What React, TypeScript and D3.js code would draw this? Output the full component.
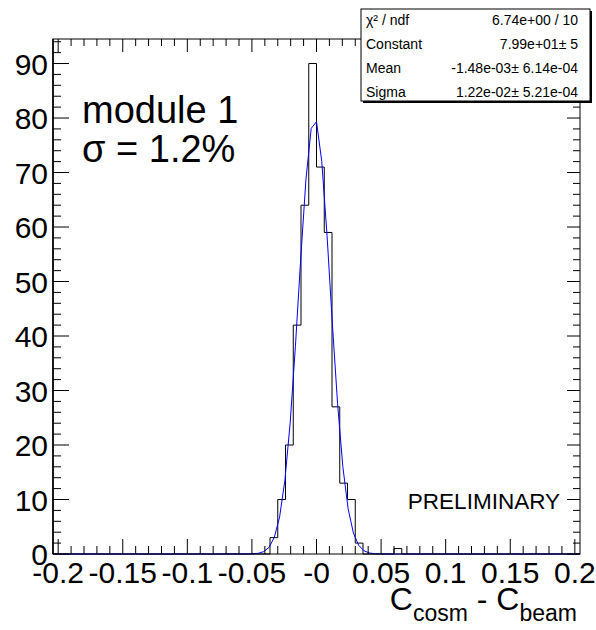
import React, { useEffect, useRef } from 'react';
import * as d3 from 'd3';

// histogram: 68 bins of width 0.006 from -0.204 to 0.204
const binLow = -0.204;
const binWidth = 0.006;
const binCounts = [
  0, 0, 0, 0, 0, 0, 0, 0, 0, 0,
  0, 0, 0, 0, 0, 0, 0, 0, 0, 0,
  0, 0, 0, 0, 0, 0, 0, 0, 3, 10,
  20, 42, 64, 90, 71, 59, 27, 13, 10, 2,
  0, 0, 0, 0, 1, 0, 0, 0, 0, 0,
  0, 0, 0, 0, 0, 0, 0, 0, 0, 0,
  0, 0, 0, 0, 0, 0, 0, 0,
];

// gaussian fit parameters (from the stats box)
const fitConstant = 79.9;
const fitMean = -1.48e-3;
const fitSigma = 1.22e-2;

const xTickValues = [-0.2, -0.15, -0.1, -0.05, 0, 0.05, 0.1, 0.15, 0.2];
const xTickLabels = ['-0.2', '-0.15', '-0.1', '-0.05', '-0', '0.05', '0.1', '0.15', '0.2'];
const yTickValues = [0, 10, 20, 30, 40, 50, 60, 70, 80, 90];

const statLabels = ['χ² / ndf', 'Constant', 'Mean', 'Sigma'];
const statValues = ['6.74e+00 / 10', '7.99e+01± 5', '-1.48e-03± 6.14e-04', '1.22e-02± 5.21e-04'];

const FONT = '"Liberation Sans", Arial, Helvetica, sans-serif';

const App = () => {
  const svgRef = useRef<SVGSVGElement>(null);
  const width = 596;
  const height = 630;

  useEffect(() => {
    const svg = d3.select(svgRef.current);
    svg.selectAll('*').remove();

    const left = 53, right = 580, top = 39, bottom = 554;
    const nBins = binCounts.length;
    const binHigh = binLow + nBins * binWidth;

    const x = d3.scaleLinear().domain([binLow, binHigh]).range([left, right]);
    const y = d3.scaleLinear().domain([0, 94.5]).range([bottom, top]);

    svg.append('rect').attr('width', width).attr('height', height).attr('fill', 'white');

    // histogram outline
    let d = `M${x(binLow)},${y(0)}`;
    binCounts.forEach((c, i) => {
      const lo = binLow + i * binWidth;
      d += `L${x(lo)},${y(c)}L${x(lo + binWidth)},${y(c)}`;
    });
    d += `L${x(binHigh)},${y(0)}`;
    svg.append('path').attr('d', d).attr('fill', 'none').attr('stroke', 'black').attr('stroke-width', 1);

    // fit curve, 100 steps like TF1 default
    const xs = d3.range(0, 101).map(i => binLow + (i * (binHigh - binLow)) / 100);
    const gaus = (v: number) => fitConstant * Math.exp(-0.5 * ((v - fitMean) / fitSigma) ** 2);
    const line = d3.line<number>().x(v => x(v)).y(v => y(gaus(v)));
    svg.append('path').attr('d', line(xs)).attr('fill', 'none').attr('stroke', '#0000ff').attr('stroke-width', 1);

    // frame
    svg.append('rect')
      .attr('x', left).attr('y', top)
      .attr('width', right - left).attr('height', bottom - top)
      .attr('fill', 'none').attr('stroke', 'black').attr('stroke-width', 1);
    svg.append('line').attr('x1', left).attr('x2', left).attr('y1', top).attr('y2', bottom)
      .attr('stroke', 'black').attr('stroke-width', 1.6);

    const ticks = svg.append('g').attr('stroke', 'black').attr('stroke-width', 1);

    // x ticks (0.01 minor, 0.05 major)
    d3.range(-20, 21).forEach(k => {
      const xv = x(k / 100);
      const major = k % 5 === 0;
      ticks.append('line').attr('x1', xv).attr('x2', xv)
        .attr('y1', bottom).attr('y2', bottom - (major ? 15 : 8));
      ticks.append('line').attr('x1', xv).attr('x2', xv)
        .attr('y1', top).attr('y2', top + (major ? 13 : 7));
    });

    // y ticks (2 minor, 10 major)
    d3.range(0, 95, 2).forEach(v => {
      const yv = y(v);
      const major = v % 10 === 0;
      ticks.append('line').attr('x1', left).attr('x2', left + (major ? 16 : 8))
        .attr('y1', yv).attr('y2', yv);
      ticks.append('line').attr('x1', right).attr('x2', right - (major ? 13 : 7))
        .attr('y1', yv).attr('y2', yv);
    });

    // tick labels
    svg.append('g').selectAll('text')
      .data(xTickValues)
      .enter()
      .append('text')
      .attr('x', v => x(v))
      .attr('y', 583)
      .attr('text-anchor', 'middle')
      .attr('font-family', FONT)
      .attr('font-size', 30)
      .text((v, i) => xTickLabels[i]);

    svg.append('g').selectAll('text')
      .data(yTickValues)
      .enter()
      .append('text')
      .attr('x', 48)
      .attr('y', v => y(v) + 11)
      .attr('text-anchor', 'end')
      .attr('font-family', FONT)
      .attr('font-size', 30)
      .text(v => String(v));

    // axis title
    const title = svg.append('text')
      .attr('x', 577).attr('y', 610)
      .attr('text-anchor', 'end')
      .attr('font-family', FONT)
      .attr('font-size', 32);
    title.append('tspan').text('C');
    title.append('tspan').attr('font-size', 23).attr('dy', 11).text('cosm');
    title.append('tspan').attr('dy', -11).text(' - C');
    title.append('tspan').attr('font-size', 23).attr('dy', 11).text('beam');

    // labels
    svg.append('text').attr('x', 82).attr('y', 123)
      .attr('font-family', FONT).attr('font-size', 38).text('module 1');
    svg.append('text').attr('x', 82).attr('y', 162)
      .attr('font-family', FONT).attr('font-size', 38).text('σ = 1.2%');
    svg.append('text').attr('x', 560).attr('y', 509).attr('text-anchor', 'end')
      .attr('font-family', FONT).attr('font-size', 22.5).text('PRELIMINARY');

    // stats box
    const bx = 361, by = 9, bw = 229, bh = 92;
    svg.append('rect').attr('x', bx + 2).attr('y', by + 2).attr('width', bw).attr('height', bh).attr('fill', 'black');
    svg.append('rect').attr('x', bx).attr('y', by).attr('width', bw).attr('height', bh)
      .attr('fill', 'white').attr('stroke', 'black').attr('stroke-width', 1);
    statLabels.forEach((lab, i) => {
      const ty = by + 16 + i * 24;
      svg.append('text').attr('x', bx + 5).attr('y', ty)
        .attr('font-family', FONT).attr('font-size', 14).text(lab);
      svg.append('text').attr('x', bx + bw - 12).attr('y', ty).attr('text-anchor', 'end')
        .attr('font-family', FONT).attr('font-size', 14).text(statValues[i]);
    });
  }, []);

  return (
    <div style={{ position: 'absolute', left: 0, top: 0 }}>
      <svg ref={svgRef} width={width} height={height} style={{ display: 'block' }}></svg>
    </div>
  );
};

export default App;
